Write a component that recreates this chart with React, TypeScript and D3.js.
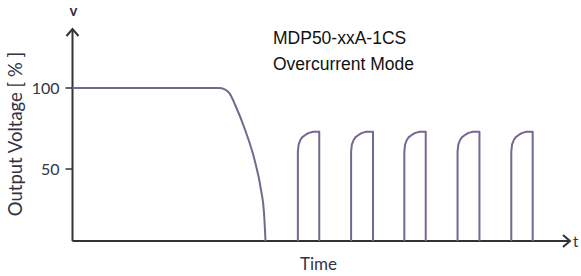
import React from 'react';
import * as d3 from 'd3';

// values (time in arbitrary units, voltage in %)
const yTicks = [50, 100];
const yFloor = 5.5; // where the time axis sits on the voltage scale

const fallTime = [0, 29.4, 30.6, 31.6, 32.7, 34.7, 36.6, 37.9, 38.5, 38.8];
const fallVolt = [100, 100, 99.2, 96.5, 89.5, 74.1, 55.6, 37, 22.8, 5.5];

const pulseStarts = [45.3, 56.0, 66.7, 77.4, 88.2];
const pulseEnds = [49.6, 60.4, 71.0, 81.8, 92.5];
// rounded rise of one hiccup pulse: offset from start, voltage
const riseOffset = [0, 0, 0.15, 0.5, 0.9, 1.5, 2.2, 3.1];
const riseVolt = [5.5, 60.7, 65, 67.9, 69.7, 71, 72.3, 73];
const pulseTop = 73;

const W = 581;
const H = 276;
const lineColor = '#77668f';
const axisColor = '#333333';
const labelFont = 'Lato, "Open Sans", sans-serif';
const titleFont = '"Liberation Sans", Arial, sans-serif';

export default function App() {
  const x = d3.scaleLinear().domain([0, 100]).range([72.5, 570]);
  const y = d3.scaleLinear().domain([50, 100]).range([169, 88]);

  const fallPts: [number, number][] = fallTime.map((t, i) => [t, fallVolt[i]]);
  const fallPath = d3.line<[number, number]>()
    .x(d => x(d[0]))
    .y(d => y(d[1]))
    .curve(d3.curveMonotoneX)(fallPts) || '';

  const pulsePaths = pulseStarts.map((s, i) => {
    const pts: [number, number][] = riseOffset.map((o, j) => [s + o, riseVolt[j]]);
    pts.push([pulseEnds[i], pulseTop]);
    pts.push([pulseEnds[i], yFloor]);
    return d3.line<[number, number]>().x(d => x(d[0])).y(d => y(d[1]))(pts) || '';
  });

  const x0 = x(0);
  const yBase = y(yFloor);
  const xEnd = x(100);
  const yTop = 29;

  return (
    <svg width={W} height={H} style={{ position: 'absolute', left: 0, top: 0, background: '#fff' }}>
      {/* axes */}
      <line x1={x0} y1={yBase} x2={xEnd} y2={yBase} stroke={axisColor} strokeWidth={2} />
      <line x1={x0} y1={yBase} x2={x0} y2={yTop} stroke={axisColor} strokeWidth={2} />
      <path d={`M${xEnd - 7},${yBase - 6}L${xEnd},${yBase}L${xEnd - 7},${yBase + 6}`}
        fill="none" stroke={axisColor} strokeWidth={2} />
      <path d={`M${x0 - 6},${yTop + 7}L${x0},${yTop}L${x0 + 6},${yTop + 7}`}
        fill="none" stroke={axisColor} strokeWidth={2} />

      {yTicks.map(t => (
        <g key={t} transform={`translate(0,${y(t)})`}>
          <line x1={x0 - 7} x2={x0} stroke={axisColor} strokeWidth={1.5} />
          <text x={x0 - 13} dy="0.35em" textAnchor="end" fontFamily={labelFont}
            fontSize={16} fill="#333344">{t}</text>
        </g>
      ))}

      {/* curves */}
      <path d={fallPath} fill="none" stroke={lineColor} strokeWidth={2} />
      {pulsePaths.map((d, i) => (
        <path key={i} d={d} fill="none" stroke={lineColor} strokeWidth={2} strokeLinejoin="round" />
      ))}

      {/* labels */}
      <text x={x0 + 1} y={16} textAnchor="middle" fontFamily={labelFont} fontSize={15}
        fontWeight="bold" fill="#333344">v</text>
      <text x={573} y={yBase + 6} fontFamily={labelFont} fontSize={15} fill="#333344">t</text>
      <text x={300} y={270} fontFamily={labelFont} fontSize={17} fill="#333344">Time</text>
      <text transform={`translate(22,134) rotate(-90)`} textAnchor="middle" fontFamily={labelFont}
        fontSize={18.5} fill="#333344">Output Voltage [ % ]</text>

      <text x={273} y={44} fontFamily={titleFont} fontSize={17.5} fill="#111">MDP50-xxA-1CS</text>
      <text x={273} y={70} fontFamily={titleFont} fontSize={17.5} fill="#111">Overcurrent Mode</text>
    </svg>
  );
}
